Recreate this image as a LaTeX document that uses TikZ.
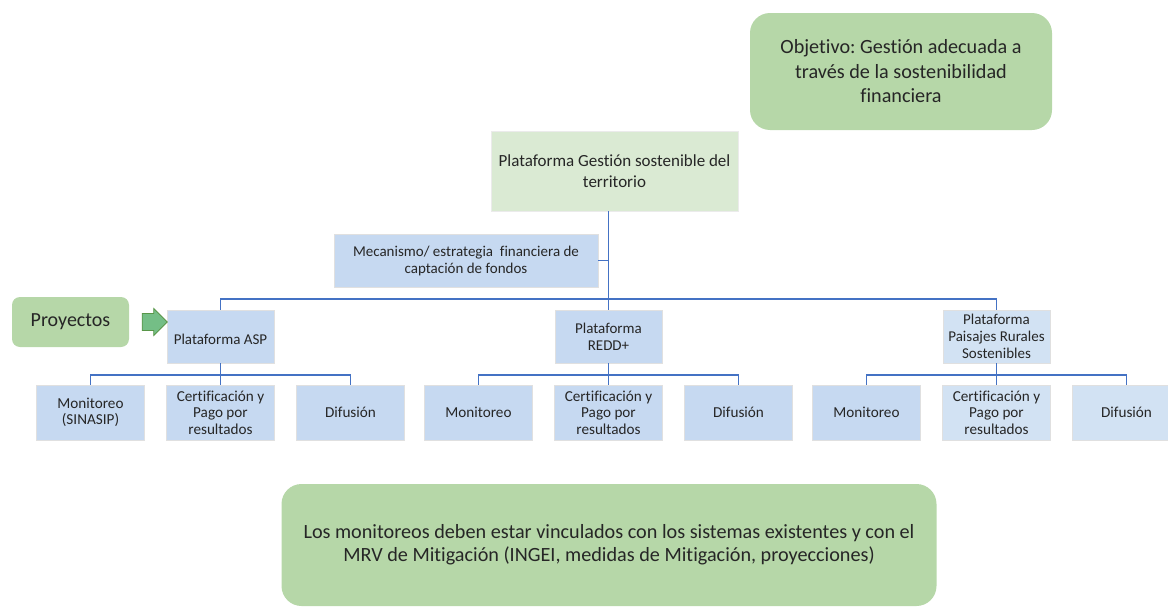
\documentclass[tikz,border=0pt]{standalone}
\usepackage{fontspec}
\setmainfont[Ligatures=NoCommon]{Carlito}
\usepackage{tikz}
\usetikzlibrary{positioning, shapes.arrows}
\definecolor{boxblue}{RGB}{198,217,241}
\definecolor{paleblue}{RGB}{210,226,243}
\definecolor{boxgreen}{RGB}{182,215,168}
\definecolor{palegreen}{RGB}{218,234,211}
\definecolor{linkblue}{RGB}{68,114,196}
\definecolor{arrowgreen}{RGB}{116,190,134}
\definecolor{arrowline}{RGB}{88,150,72}
\frenchspacing
\begin{document}
\begin{tikzpicture}[x=1pt, y=-1pt]
	\tikzstyle{every node}=[text=black!85, align=center, inner sep=2pt]
	\tikzstyle{plat}=[draw=black!12, fill=boxblue, minimum width=107pt, minimum height=53pt, font=\fontsize{15}{17}\selectfont]
	\tikzstyle{leaf}=[plat, minimum width=108pt, minimum height=55pt, font=\fontsize{15.2}{16.5}\selectfont]
	\tikzstyle{goal}=[fill=boxgreen, rounded corners=20pt]
	\tikzstyle{link}=[draw=linkblue, line width=1.6pt]
	\useasboundingbox (0, 0) rectangle (1168, 608);
	\node[goal, minimum width=302pt, minimum height=117pt, font=\fontsize{20.2}{24.5}\selectfont] (obj) at (901, 71.5) {Objetivo: Gestión adecuada a\\ través de la sostenibilidad\\ financiera};
	\node[draw=black!8, fill=palegreen, minimum width=247pt, minimum height=80pt, font=\fontsize{17}{21.5}\selectfont] (top) at (614.5, 171) {Plataforma Gestión sostenible del\\ territorio};
	\node[plat, minimum width=264pt] (mec) at (466, 260.5) {Mecanismo/ estrategia\ \ financiera de\\ captación de fondos};
	\node[plat] (asp) at (220.5, 336.5) {\\[0pt]Plataforma ASP};
	\node[plat] (redd) at (608.5, 336.5) {Plataforma\\ REDD+};
	\node[plat, fill=paleblue] (prs) at (996.5, 336.5) {Plataforma\\ Paisajes Rurales\\ Sostenibles};
	\node[goal, rounded corners=8pt, minimum width=117pt, minimum height=50pt, font=\fontsize{20}{22}\selectfont] (proy) at (70.5, 322) {Proyectos};
	\node[single arrow, draw=arrowline, fill=arrowgreen, line width=0.8pt, minimum height=25pt, minimum width=27pt, single arrow head extend=5pt, inner xsep=0pt, inner ysep=8pt] (flecha) at (150.5, 322) {};
	\node[leaf] (a1) at (90.5, 412.5) {Monitoreo\\ (SINASIP)};
	\node[leaf] (a2) at (220.5, 412.5) {Certificación y\\ Pago por\\ resultados};
	\node[leaf] (a3) at (350.5, 412.5) {Difusión};
	\node[leaf] (r1) at (478.5, 412.5) {Monitoreo};
	\node[leaf] (r2) at (608.5, 412.5) {Certificación y\\ Pago por\\ resultados};
	\node[leaf] (r3) at (738.5, 412.5) {Difusión};
	\node[leaf] (p1) at (866.5, 412.5) {Monitoreo};
	\node[leaf, fill=paleblue] (p2) at (996.5, 412.5) {Certificación y\\ Pago por\\ resultados};
	\node[leaf, fill=paleblue] (p3) at (1126.5, 412.5) {Difusión};
	\node[goal, minimum width=655pt, minimum height=122pt, font=\fontsize{20.2}{23}\selectfont] (nota) at (609, 545) {Los monitoreos deben estar vinculados con los sistemas existentes y con el\\ MRV de Mitigación (INGEI, medidas de Mitigación, proyecciones)};
	\coordinate (bus) at (608.5, 299);
	\draw[link] (redd.north |- top.south) -- (redd.north);
	\draw[link] (mec.east) -- (mec.east -| redd.north);
	\draw[link] (asp.north) |- (bus) -| (prs.north);
	\foreach \p/\a/\b/\m in {asp/a1/a3/a2, redd/r1/r3/r2, prs/p1/p3/p2}{
		\draw[link] (\a.north) -- ++(0, -10) -| (\b.north);
		\draw[link] (\p.south) -- (\m.north);
	}
\end{tikzpicture}
\end{document}
